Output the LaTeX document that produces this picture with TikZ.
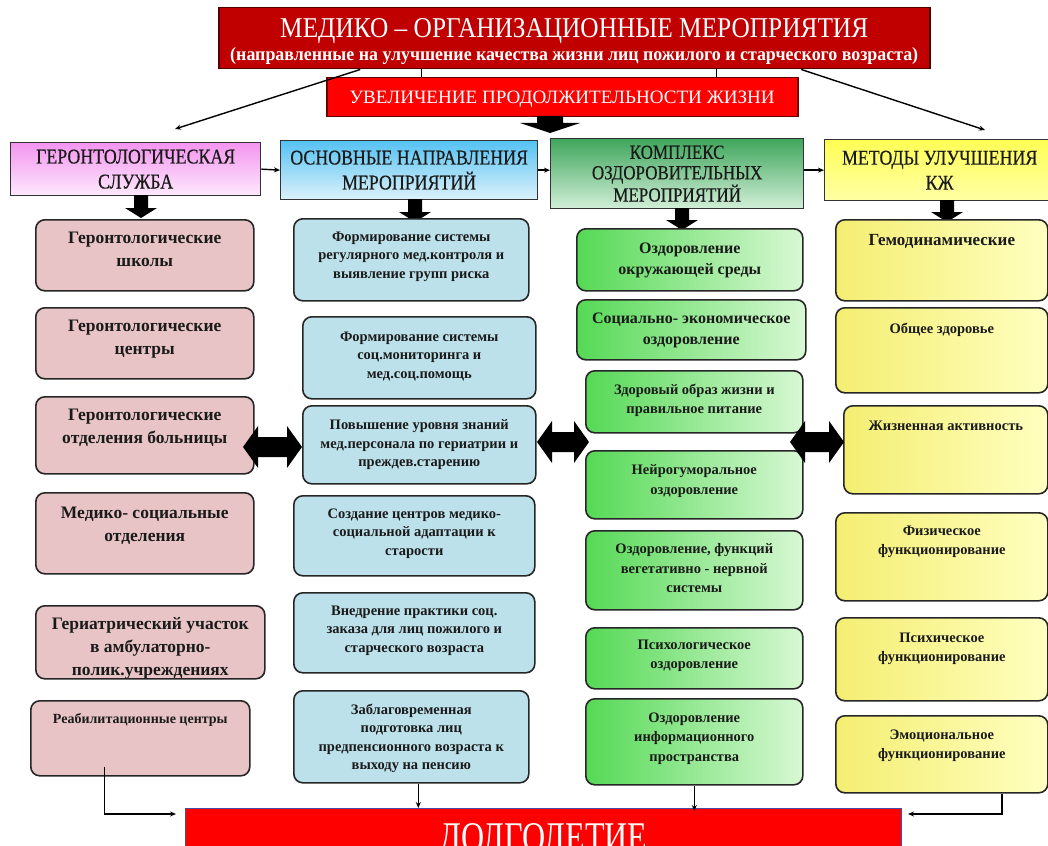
\documentclass[tikz,border=0pt]{standalone}
\usepackage{fontspec}
\setmainfont{Liberation Serif}
\newfontfamily\condf[FakeStretch=0.85,FakeBold=0.4]{Liberation Serif}
\usetikzlibrary{arrows.meta,calc}
\definecolor{titlered}{HTML}{C00000}
\definecolor{redbox}{HTML}{FF0000}
\definecolor{pinkA}{HTML}{F495F0}
\definecolor{pinkB}{HTML}{FDE9FC}
\definecolor{blueA}{HTML}{55C2F3}
\definecolor{blueB}{HTML}{DDF2FB}
\definecolor{greenA}{HTML}{3FA65C}
\definecolor{greenB}{HTML}{D2EFD8}
\definecolor{yelA}{HTML}{FFFF55}
\definecolor{yelB}{HTML}{FFFFA5}
\definecolor{rose}{HTML}{E8C4C6}
\definecolor{aqua}{HTML}{BCE1EA}
\definecolor{grA}{HTML}{55D955}
\definecolor{grB}{HTML}{D8F8D4}
\definecolor{ylA}{HTML}{F4EE72}
\definecolor{ylB}{HTML}{FFFFC0}
\definecolor{txt}{HTML}{1A1A1A}
\newcommand\mybox[8]{\node[#1, minimum width=#5pt, minimum height=#6pt] (#2) at (#3,#4) {\parbox[c][#6pt][t]{#5pt}{\centering\vspace*{#7pt}#8\par}};}
\newcommand\blkdown[6]{% x, ytop, ybot, headlen, shaft half, head half
  \fill (#1-#5,#2) -- (#1+#5,#2) -- (#1+#5,#3-#4) -- (#1+#6,#3-#4) -- (#1,#3) -- (#1-#6,#3-#4) -- (#1-#5,#3-#4) -- cycle;}
\newcommand\dblarrow[3]{% x1, x2, yc
  \fill (#1,#3) -- (#1+15,#3-21) -- (#1+15,#3-10) -- (#2-15,#3-10) -- (#2-15,#3-21) -- (#2,#3) -- (#2-15,#3+21) -- (#2-15,#3+10) -- (#1+15,#3+10) -- (#1+15,#3+21) -- cycle;}
\tikzset{
  bx/.style={draw=black!85, line width=1.6pt, rounded corners=9pt, inner sep=0pt, anchor=north west, text=txt},
  rosebx/.style={bx, fill=rose, font=\bfseries\fontsize{17.5}{23}\selectfont},
  aquabx/.style={bx, fill=aqua, font=\bfseries\fontsize{14.5}{18.5}\selectfont},
  greenbx/.style={bx, left color=grA, right color=grB, font=\bfseries\fontsize{14.5}{19.5}\selectfont},
  yelbx/.style={bx, left color=ylA, right color=ylB, font=\bfseries\fontsize{14.5}{19}\selectfont},
  headbx/.style={draw=black!80, line width=1.3pt, inner sep=0pt, anchor=north west, align=center, text=txt, font=\condf\fontsize{21}{25}\selectfont},
  thinarrow/.style={line width=1.4pt, -{Stealth[length=6pt,width=5pt]}},
  thinline/.style={line width=1.2pt}
}
\begin{document}
\begin{tikzpicture}[x=1pt,y=-1pt]
\useasboundingbox (0,0) rectangle (1048,845);
\clip (0,0) rectangle (1048,845);
\fill[white] (0,0) rectangle (1048,845);

% title
\node[fill=titlered, draw=black!70!red, line width=1.5pt, anchor=north west, minimum width=711pt, minimum height=61pt, inner sep=0pt, text=white] (title) at (218,7)
  {\parbox[c][61pt][t]{711pt}{\centering\vspace*{11pt}%
   \raisebox{0pt}[19pt][0pt]{\resizebox{588pt}{19pt}{МЕДИКО – ОРГАНИЗАЦИОННЫЕ МЕРОПРИЯТИЯ}}\par\nointerlineskip\vspace{10pt}%
   \raisebox{0pt}[13pt][0pt]{\resizebox{688pt}{13pt}{\bfseries (направленные на улучшение качества жизни лиц пожилого и старческого возраста)}}\par}};
\node[fill=redbox, draw=black!60!red, line width=1.5pt, anchor=north west, minimum width=471pt, minimum height=39pt, inner sep=0pt, text=white] (sec) at (326,77)
  {\raisebox{0pt}[12.5pt][0pt]{\resizebox{425pt}{12.5pt}{УВЕЛИЧЕНИЕ ПРОДОЛЖИТЕЛЬНОСТИ ЖИЗНИ}}};

\draw[thinline] ([xshift=-152.5pt]title.south) -- ([xshift=-152.5pt]title.south |- sec.north);
\draw[thinline] ([xshift=142.5pt]title.south) -- ([xshift=142.5pt]title.south |- sec.north);
\coordinate (dl) at (175,129);
\coordinate (dr) at (985,130);
\draw[thinarrow] ([xshift=-214pt]title.south) -- (dl);
\draw[thinarrow] ([xshift=227pt]title.south) -- (dr);

\blkdown{550}{116}{133}{10}{13}{30}

% headers
\node[headbx, top color=pinkA, bottom color=pinkB, minimum width=250pt, minimum height=53pt] (h1) at (10,142) {ГЕРОНТОЛОГИЧЕСКАЯ\\СЛУЖБА};
\node[headbx, top color=blueA, bottom color=blueB, minimum width=257pt, minimum height=59pt] (h2) at (280,140) {ОСНОВНЫЕ НАПРАВЛЕНИЯ\\МЕРОПРИЯТИЙ};
\node[headbx, top color=greenA, bottom color=greenB, minimum width=253pt, minimum height=70pt, font=\condf\fontsize{20}{20.5}\selectfont] (h3) at (550,138) {КОМПЛЕКС\\ОЗДОРОВИТЕЛЬНЫХ\\МЕРОПРИЯТИЙ};
\node[headbx, top color=yelA, bottom color=yelB, minimum width=230pt, minimum height=61pt] (h4) at (824,139) {МЕТОДЫ УЛУЧШЕНИЯ\\КЖ};

\draw[thinarrow] (h1.east) -- (h2.west);
\draw[thinarrow] (h2.east) -- (h3.west |- h2.east);
\draw[thinarrow] (h3.east |- h4.west) -- (h4.west);

\blkdown{141}{195}{218}{10}{7}{16}
\blkdown{415}{199}{222}{10}{7}{16}
\blkdown{682}{208}{230}{10}{7}{16}
\blkdown{947}{200}{222}{10}{7}{16}

% column 1
\mybox{rosebx}{r1}{35}{219}{218}{71}{12}{Геронтологические\\школы}
\mybox{rosebx}{r2}{35}{307}{218}{71}{12}{Геронтологические\\центры}
\mybox{rosebx}{r3}{35}{396}{218}{77}{12}{Геронтологические\\отделения больницы}
\mybox{rosebx}{r4}{35}{492}{218}{81}{14}{Медико- социальные\\отделения}
\mybox{rosebx}{r5}{35}{605}{229}{73}{12}{Гериатрический участок\\в амбулаторно-\\полик.учреждениях}
\mybox{rosebx, font=\bfseries\fontsize{14}{18}\selectfont}{r6}{30}{700}{219}{75}{13}{Реабилитационные центры}

% column 2
\mybox{aquabx}{b1}{293}{218}{235}{82}{13}{Формирование системы\\регулярного мед.контроля и\\выявление групп риска}
\mybox{aquabx}{b2}{302}{316}{233}{82}{15}{Формирование системы\\соц.мониторинга и\\мед.соц.помощь}
\mybox{aquabx}{b3}{302}{405}{233}{78}{14}{Повышение уровня знаний\\мед.персонала по гериатрии и\\преждев.старению}
\mybox{aquabx}{b4}{293}{495}{241}{80}{13}{Создание центров медико-\\социальной адаптации к\\старости}
\mybox{aquabx}{b5}{293}{592}{241}{80}{13}{Внедрение практики соц.\\заказа для лиц пожилого и\\старческого возраста}
\mybox{aquabx}{b6}{293}{690}{235}{92}{13}{Заблаговременная\\подготовка лиц\\предпенсионного возраста к\\выходу на пенсию}

% column 3
\mybox{greenbx, font=\bfseries\fontsize{16}{21}\selectfont}{g1}{576}{228}{226}{62}{14}{Оздоровление\\окружающей среды}
\mybox{greenbx, font=\bfseries\fontsize{16}{21}\selectfont}{g2}{576}{299}{229}{60}{13}{Социально- экономическое\\оздоровление}
\mybox{greenbx}{g3}{585}{370}{217}{62}{13}{Здоровый образ жизни и\\правильное питание}
\mybox{greenbx}{g4}{585}{450}{217}{68}{14}{Нейрогуморальное\\оздоровление}
\mybox{greenbx}{g5}{585}{530}{217}{79}{13}{Оздоровление, функций\\вегетативно - нервной\\системы}
\mybox{greenbx}{g6}{585}{627}{217}{61}{12}{Психологическое\\оздоровление}
\mybox{greenbx}{g7}{585}{698}{217}{86}{14}{Оздоровление\\информационного\\пространства}

% column 4
\mybox{yelbx, font=\bfseries\fontsize{17}{22}\selectfont}{y1}{835}{219}{212}{81}{15}{Гемодинамические}
\mybox{yelbx}{y2}{835}{307}{212}{85}{15}{Общее здоровье}
\mybox{yelbx}{y3}{843}{405}{204}{88}{15}{Жизненная активность}
\mybox{yelbx}{y4}{835}{512}{212}{88}{13}{Физическое\\функционирование}
\mybox{yelbx}{y5}{835}{617}{212}{83}{15}{Психическое\\функционирование}
\mybox{yelbx}{y6}{835}{715}{212}{77}{14}{Эмоциональное\\функционирование}

% double arrows
\dblarrow{243}{302}{447}
\dblarrow{537}{589}{442}
\dblarrow{790}{844}{442}

% longevity
\node[fill=redbox, draw=black!50!blue!70!white, line width=1pt, anchor=north west, minimum width=716pt, minimum height=58pt, inner sep=0pt, text=white] (dolg) at (185,808)
  {\raisebox{0pt}[28pt][0pt]{\resizebox{208pt}{28pt}{ДОЛГОЛЕТИЕ}}};

\coordinate (dolgL) at (176,814);
\coordinate (dolgR) at (908,814);
\draw[thinarrow] ([xshift=-36pt,yshift=10pt]r6.south) |- (dolgL);
\draw[thinarrow] ([xshift=60pt]y6.south) |- (dolgR);
\draw[thinarrow] ([xshift=7pt]b6.south) -- ([xshift=7pt]b6.south |- dolg.north);
\draw[thinarrow] (g7.south) -- ([yshift=-3pt]g7.south |- dolg.north);
\end{tikzpicture}
\end{document}
